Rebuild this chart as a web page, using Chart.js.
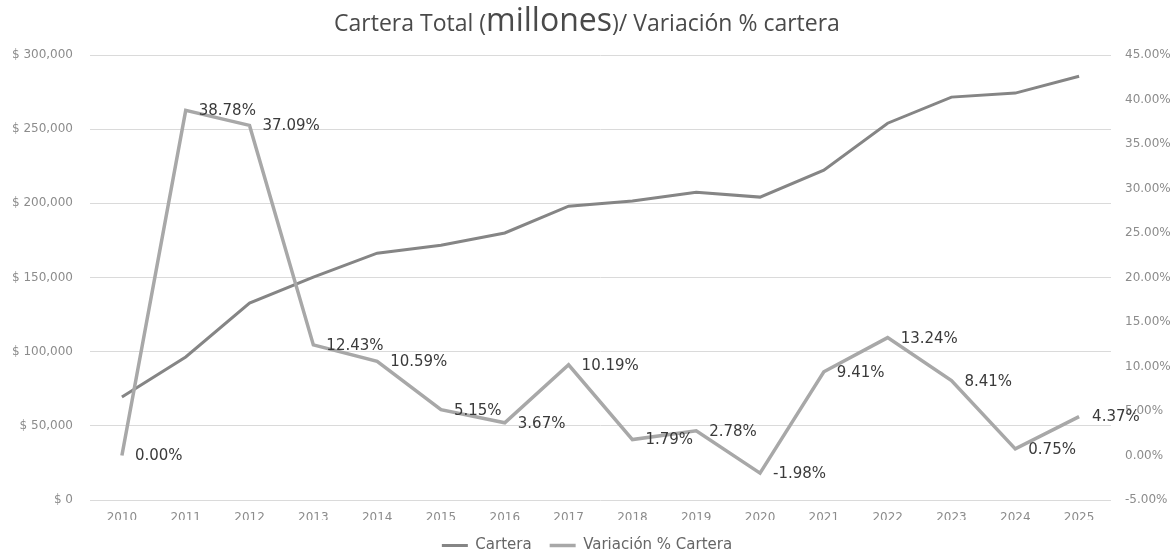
<!DOCTYPE html>
<html><head><meta charset="utf-8">
<script src="https://cdn.jsdelivr.net/npm/chart.js@4.4.1/dist/chart.umd.min.js"></script>
<style>
html,body{margin:0;padding:0;background:#fff;}
#wrap{position:relative;width:1174px;height:557px;}
#title{position:absolute;top:3px;left:0;width:1174px;text-align:center;font-family:'Open Sans',sans-serif;color:#4a4a4a;font-size:23px;line-height:32px;white-space:nowrap;}
#title .big{font-size:32px;}
canvas{position:absolute;left:0;top:0;}
</style></head>
<body><div id="wrap"><canvas id="c" width="1174" height="557"></canvas><div id="title">Cartera Total (<span class="big">millones</span>)/ Variación % cartera</div></div>
<script>
const years = ['2010','2011','2012','2013','2014','2015','2016','2017','2018','2019','2020','2021','2022','2023','2024','2025'];
const cartera = [69400, 96400, 132800, 150300, 166400, 171800, 180000, 198100, 201500, 207500, 204200, 222400, 254000, 271600, 274300, 285700];
const variacion = [0.00, 38.78, 37.09, 12.43, 10.59, 5.15, 3.67, 10.19, 1.79, 2.78, -1.98, 9.41, 13.24, 8.41, 0.75, 4.37];
const leftAxis = {min: 0, max: 300000, step: 50000};
const rightAxis = {min: -5, max: 45, step: 5};

const tickFont = {family: 'DejaVu Sans', size: 12};
const tickColor = '#8c8c8c';

const labelPlugin = {
  id: 'pctLabels',
  afterDatasetsDraw(chart) {
    const meta = chart.getDatasetMeta(1);
    const ctx = chart.ctx;
    ctx.save();
    ctx.font = '15px "DejaVu Sans"';
    ctx.fillStyle = '#3a3a3a';
    ctx.textAlign = 'left';
    ctx.textBaseline = 'middle';
    meta.data.forEach((pt, i) => {
      ctx.fillText(variacion[i].toFixed(2) + '%', pt.x + 13, pt.y + 1);
    });
    ctx.restore();
  }
};

new Chart(document.getElementById('c'), {
  type: 'line',
  data: {
    labels: years,
    datasets: [
      {label: 'Cartera', data: cartera, yAxisID: 'y', borderColor: '#858585', backgroundColor: '#858585', borderWidth: 3, pointRadius: 0, tension: 0, order: 1},
      {label: 'Variación % Cartera', data: variacion, yAxisID: 'y1', borderColor: '#a8a8a8', backgroundColor: '#a8a8a8', borderWidth: 3.5, pointRadius: 0, tension: 0, order: 0}
    ]
  },
  options: {
    responsive: false,
    animation: false,
    devicePixelRatio: 1,
    layout: {padding: {top: 55, left: 0, right: 0, bottom: -6}},
    plugins: {
      tooltip: {enabled: false},
      legend: {
        position: 'bottom',
        labels: {
          usePointStyle: true, pointStyle: 'line', pointStyleWidth: 26,
          color: '#666666', font: {family: 'DejaVu Sans', size: 15}, padding: 18,
          sort: (a, b) => a.datasetIndex - b.datasetIndex
        }
      }
    },
    scales: {
      x: {
        offset: true,
        grid: {display: false, drawTicks: false},
        border: {display: false},
        ticks: {color: tickColor, font: tickFont, padding: 11, maxRotation: 0},
        afterFit: s => { s.height = 20; }
      },
      y: {
        position: 'left', min: leftAxis.min, max: leftAxis.max,
        ticks: {stepSize: leftAxis.step, color: tickColor, font: tickFont, padding: 17,
          callback: v => '$ ' + Number(v).toLocaleString('en-US')},
        grid: {color: '#dadada', drawTicks: false, lineWidth: 1},
        border: {display: false},
        afterFit: s => { s.width = 90; }
      },
      y1: {
        position: 'right', min: rightAxis.min, max: rightAxis.max,
        ticks: {stepSize: rightAxis.step, color: tickColor, font: tickFont, padding: 14,
          callback: v => Number(v).toFixed(2) + '%'},
        grid: {display: false, drawTicks: false},
        border: {display: false},
        afterFit: s => { s.width = 63; }
      }
    }
  },
  plugins: [labelPlugin]
});
</script>
</body></html>
